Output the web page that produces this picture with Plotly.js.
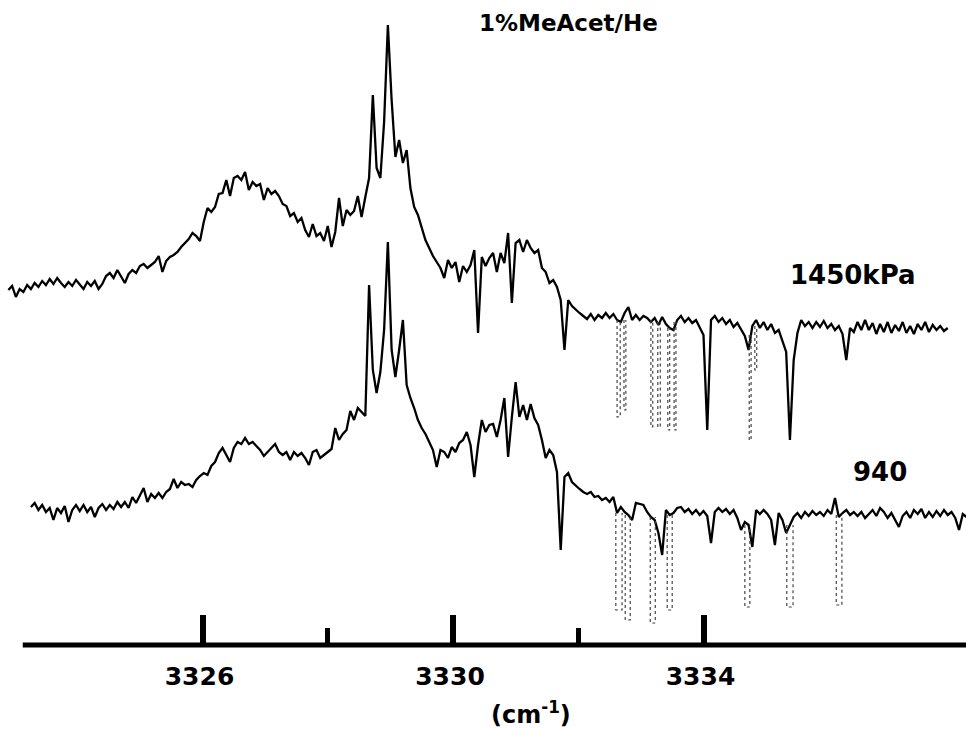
<!DOCTYPE html>
<html>
<head>
<meta charset="utf-8">
<script src="https://cdn.plot.ly/plotly-3.0.1.min.js"></script>
<style>html,body{margin:0;padding:0;background:#fff;}#chart{width:966px;height:729px;}</style>
</head>
<body>
<div id="chart"></div>
<script>
// Wavenumber sampling of the two recorded spectra (cm^-1)
const topStart = 3322.90;
const bottomStart = 3323.26;
const sampleStep = 0.06;

// Spectrum at 1450 kPa (signal, arbitrary units)
const signal1450 = [
410,414,403,411,408,415,411,417,413,419,
415,421,416,422,417,413,418,414,420,415,
411,418,414,419,411,416,424,427,422,430,
424,417,426,430,427,434,436,432,435,438,
444,428,439,443,445,448,453,457,461,467,
464,459,478,492,488,493,506,507,520,504,
522,524,520,528,510,518,514,516,500,512,
506,509,504,496,494,484,487,478,482,470,
463,476,464,467,459,474,453,468,502,474,
490,485,489,504,483,503,522,605,532,522,
578,675,600,543,560,537,550,512,493,485,
472,460,452,444,438,432,422,440,432,438,
418,434,428,435,450,367,443,434,442,447,
428,447,437,467,397,457,460,448,460,452,
447,450,432,428,417,420,413,400,350,400,
394,390,387,384,381,386,380,385,382,387,
382,386,380,378,387,393,380,385,380,384,
382,378,382,375,383,376,372,370,380,384,
378,382,377,380,372,365,270,380,384,378,
382,376,380,373,377,370,364,350,374,380,
372,378,370,376,367,370,360,348,260,340,
367,380,374,378,372,378,373,379,372,376,
370,374,366,340,372,368,378,370,380,370,
377,366,376,368,378,367,375,369,378,367,
374,366,376,370,378,368,375,370,374,369,
372];

// Spectrum at 940 kPa
const signal940 = [
193,197,190,195,188,192,180,192,187,194,
178,190,195,189,195,188,193,183,192,196,
190,195,191,198,193,198,192,203,197,204,
212,198,206,202,207,202,208,211,221,212,
218,215,216,213,220,224,227,225,234,238,
247,252,245,238,252,258,256,262,256,258,
254,250,244,248,252,256,248,245,248,240,
248,244,247,242,235,248,250,242,245,248,
251,272,260,266,270,289,280,292,288,284,
415,330,307,328,370,458,350,323,350,380,
315,302,292,280,272,266,258,250,233,250,
248,242,253,248,257,260,268,255,223,255,
280,268,275,276,263,280,302,243,283,318,
283,295,280,296,282,275,260,242,250,245,
228,150,223,227,218,214,211,208,206,208,
203,204,200,202,198,203,187,193,188,185,
180,197,196,195,188,183,180,167,145,190,
185,187,192,193,188,191,186,190,185,189,
184,157,188,192,188,191,186,190,182,170,
178,175,153,190,186,190,186,180,155,187,
180,167,175,183,187,182,188,184,189,185,
188,184,190,186,202,183,187,190,185,188,
184,188,182,186,190,184,192,188,182,187,
180,173,184,188,182,190,186,191,182,188,
183,189,184,190,185,188,182,170,186,183];

// Deep absorption lines (pen traced faintly): left/right wavenumber, bottom and starting level
const dips1450Left   = [3332.62,3332.73,3333.16,3333.27,3333.43,3333.53,3334.73,3334.82];
const dips1450Right  = [3332.67,3332.76,3333.19,3333.31,3333.46,3333.56,3334.76,3334.85];
const dips1450Bottom = [283,290,273,273,270,270,260,330];
const dips1450Base   = [380,380,380,378,372,378,365,374];

const dips940Left   = [3332.60,3332.75,3333.15,3333.42,3334.66,3335.33,3336.12];
const dips940Right  = [3332.70,3332.83,3333.23,3333.50,3334.74,3335.43,3336.21];
const dips940Bottom = [90,80,77,90,93,93,95];
const dips940Base   = [187,185,183,185,175,175,185];

// Axis ticks
const majorTicks = [3326, 3330, 3334];
const majorTickText = ['3326', '3330', '3334'];
const minorTicks = [3328, 3332];

function dipPath(left, right, bottom, base) {
  const xs = [], ys = [];
  for (let i = 0; i < left.length; i++) {
    xs.push(left[i], left[i], right[i], right[i], null);
    ys.push(base[i], bottom[i], bottom[i], base[i], null);
  }
  return {x: xs, y: ys};
}

const d1 = dipPath(dips1450Left, dips1450Right, dips1450Bottom, dips1450Base);
const d2 = dipPath(dips940Left, dips940Right, dips940Bottom, dips940Base);

const boldFont = (size) => ({family: 'DejaVu Sans, Arial, sans-serif', size: size, color: '#000', weight: 700});

const traces = [
  {type: 'scatter', mode: 'lines', y: signal1450, x0: topStart, dx: sampleStep,
   line: {color: '#000', width: 2.3}, hoverinfo: 'skip', showlegend: false},
  {type: 'scatter', mode: 'lines', y: signal940, x0: bottomStart, dx: sampleStep,
   line: {color: '#000', width: 2.3}, hoverinfo: 'skip', showlegend: false},
  {type: 'scatter', mode: 'lines', x: d1.x, y: d1.y, connectgaps: false,
   line: {color: '#444', width: 1.2, dash: 'dot'}, hoverinfo: 'skip', showlegend: false},
  {type: 'scatter', mode: 'lines', x: d2.x, y: d2.y, connectgaps: false,
   line: {color: '#444', width: 1.2, dash: 'dot'}, hoverinfo: 'skip', showlegend: false}
];

const layout = {
  width: 966, height: 729,
  margin: {l: 0, r: 0, t: 0, b: 84, pad: 0},
  paper_bgcolor: '#fff', plot_bgcolor: '#fff',
  showlegend: false,
  xaxis: {
    range: [3322.7665, 3338.1916],
    showgrid: false, zeroline: false, showline: false,
    tickmode: 'array', tickvals: majorTicks, ticktext: majorTickText,
    ticks: 'inside', ticklen: 30, tickwidth: 6, tickcolor: '#000',
    tickfont: boldFont(25),
    ticklabelstandoff: 14,
    ticklabelshift: -3,
    minor: {tickmode: 'array', tickvals: minorTicks, ticks: 'inside', ticklen: 17, tickwidth: 5, tickcolor: '#000', showgrid: false}
  },
  yaxis: {range: [55, 700], visible: false, showgrid: false, zeroline: false},
  shapes: [
    {type: 'line', xref: 'x', yref: 'paper', x0: 3323.13, x1: 3338.1916, y0: 0, y1: 0,
     line: {color: '#000', width: 5}}
  ],
  annotations: [
    {text: '1%MeAcet/He', xref: 'paper', yref: 'paper', x: 0.589, y: 0.9636,
     xanchor: 'center', yanchor: 'middle', showarrow: false, font: boldFont(23)},
    {text: '1450kPa', xref: 'paper', yref: 'paper', x: 0.883, y: 0.5736,
     xanchor: 'center', yanchor: 'middle', showarrow: false, font: boldFont(26)},
    {text: '940', xref: 'paper', yref: 'paper', x: 0.911, y: 0.2682,
     xanchor: 'center', yanchor: 'middle', showarrow: false, font: boldFont(26)},
    {text: '(cm<sup>-1</sup>)', xref: 'paper', yref: 'paper', x: 0.5497, y: -0.1054,
     xanchor: 'center', yanchor: 'middle', showarrow: false, font: boldFont(24)}
  ]
};

Plotly.newPlot('chart', traces, layout, {displayModeBar: false, staticPlot: true});
</script>
</body>
</html>
